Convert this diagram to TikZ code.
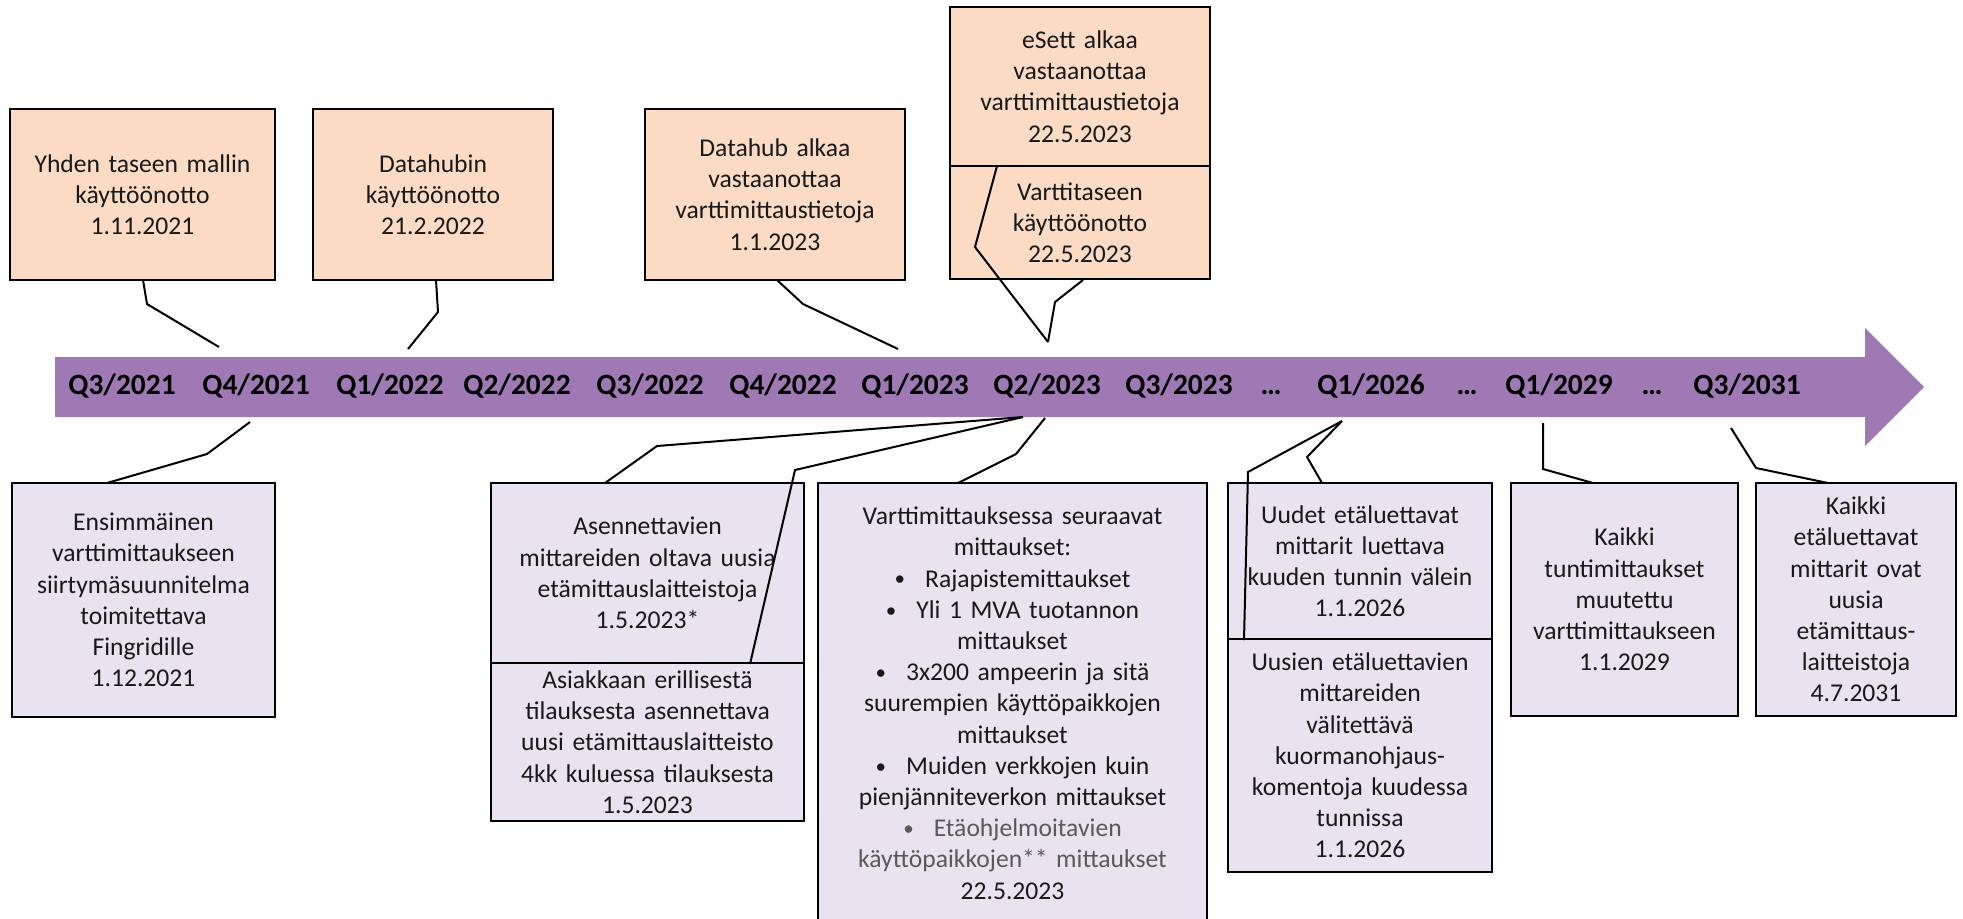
\documentclass[tikz,border=0pt]{standalone}
\usepackage{fontspec}
\setmainfont{Carlito}
\definecolor{peach}{RGB}{252,219,196}
\definecolor{lav}{RGB}{233,226,240}
\definecolor{arrowpurple}{RGB}{158,121,179}
\definecolor{txt}{RGB}{25,25,25}
\definecolor{graytxt}{RGB}{89,89,89}
\newcommand{\boxfont}{\fontsize{12.8}{15.6}\selectfont}
\newcommand{\labfont}{\fontsize{14.7}{17}\selectfont\bfseries}
\newcommand{\bul}{\raisebox{0.6pt}{\fontsize{10.5}{10.5}\selectfont\textbullet}\hspace{10pt}}
\tikzset{
  box/.style={draw=black, line width=1.3pt, inner sep=0pt, align=center, font=\boxfont, text=txt},
  obox/.style={box, fill=peach},
  lbox/.style={box, fill=lav},
  conn/.style={draw=black, line width=1pt, line join=miter},
  qlab/.style={font=\labfont, anchor=base, text=black, inner sep=0pt}
}
\begin{document}
\begin{tikzpicture}[x=0.5pt, y=-0.5pt]
\useasboundingbox (0,0) rectangle (1963,918);

% timeline arrow
\fill[arrowpurple] (55,357) -- (1865,357) -- (1865,328) -- (1924,387) -- (1865,446) -- (1865,417) -- (55,417) -- cycle;
\node[qlab] (q1) at (122,394) {Q3/2021};
\node[qlab] (q2) at (256,394) {Q4/2021};
\node[qlab] (q3) at (390,394) {Q1/2022};
\node[qlab] (q4) at (517,394) {Q2/2022};
\node[qlab] (q5) at (650,394) {Q3/2022};
\node[qlab] (q6) at (783,394) {Q4/2022};
\node[qlab] (q7) at (915,394) {Q1/2023};
\node[qlab] (q8) at (1047,394) {Q2/2023};
\node[qlab] (q9) at (1179,394) {Q3/2023};
\node[qlab] (e1) at (1271,394) {…};
\node[qlab] (q10) at (1371,394) {Q1/2026};
\node[qlab] (e2) at (1467,394) {…};
\node[qlab] (q11) at (1559,394) {Q1/2029};
\node[qlab] (e3) at (1652,394) {…};
\node[qlab] (q12) at (1747,394) {Q3/2031};

% top boxes
\node[obox, minimum width=132.5pt, minimum height=85.5pt, text width=128pt] (t1) at (142.5,194.5)
  {Yhden taseen mallin\\käyttöönotto\\1.11.2021};
\node[obox, minimum width=120pt, minimum height=85.5pt, text width=116pt] (t2) at (433,194.5)
  {Datahubin\\käyttöönotto\\21.2.2022};
\node[obox, minimum width=130pt, minimum height=85.5pt, text width=126pt] (t3) at (775,194.5)
  {Datahub alkaa\\vastaanottaa\\varttimittaustietoja\\1.1.2023};
\node[obox, minimum width=130pt, minimum height=79.5pt, text width=126pt] (t4) at (1080,86.5)
  {eSett alkaa\\vastaanottaa\\varttimittaustietoja\\22.5.2023};
\node[obox, minimum width=130pt, minimum height=56.5pt, text width=126pt] (t5) at (1080,222.5)
  {Varttitaseen\\käyttöönotto\\22.5.2023};

% bottom boxes
\node[lbox, minimum width=131.5pt, minimum height=117pt, text width=127pt] (b1) at (143.5,600)
  {Ensimmäinen\\varttimittaukseen\\siirtymäsuunnitelma\\toimitettava\\Fingridille\\1.12.2021};
\node[lbox, minimum width=156.5pt, minimum height=90pt, text width=152pt] (b2) at (647.5,573)
  {Asennettavien\\mittareiden oltava uusia\\etämittauslaitteistoja\\1.5.2023*};
\node[lbox, minimum width=156.5pt, minimum height=79pt, text width=152pt] (b3) at (647.5,742)
  {Asiakkaan erillisestä\\tilauksesta asennettava\\uusi etämittauslaitteisto\\4kk kuluessa tilauksesta\\1.5.2023};
\node[lbox, minimum width=194.5pt, minimum height=220pt, text width=190pt] (b4) at (1012.5,703)
  {Varttimittauksessa seuraavat\\mittaukset:\\\bul Rajapistemittaukset\\\bul Yli 1 MVA tuotannon\\mittaukset\\\bul 3x200 ampeerin ja sitä\\suurempien käyttöpaikkojen\\mittaukset\\\bul Muiden verkkojen kuin\\pienjänniteverkon mittaukset\\\textcolor{graytxt}{\bul Etäohjelmoitavien}\\\textcolor{graytxt}{käyttöpaikkojen** mittaukset}\\22.5.2023};
\node[lbox, minimum width=132pt, minimum height=78pt, text width=128pt] (b5) at (1360,561)
  {Uudet etäluettavat\\mittarit luettava\\kuuden tunnin välein\\1.1.2026};
\node[lbox, minimum width=132pt, minimum height=116.5pt, text width=128pt] (b6) at (1360,755.5)
  {Uusien etäluettavien\\mittareiden\\välitettävä\\kuormanohjaus-\\komentoja kuudessa\\tunnissa\\1.1.2026};
\node[lbox, minimum width=113.5pt, minimum height=116.5pt, text width=110pt] (b7) at (1624.5,599.5)
  {Kaikki\\tuntimittaukset\\muutettu\\varttimittaukseen\\1.1.2029};
\node[lbox, minimum width=100pt, minimum height=116.5pt, text width=97pt] (b8) at (1856,599.5)
  {Kaikki\\etäluettavat\\mittarit ovat\\uusia\\etämittaus-\\laitteistoja\\4.7.2031};

% connector points
\coordinate (c1a) at (143,280);  \coordinate (c1b) at (147,304);  \coordinate (c1c) at (219,347);
\coordinate (c2a) at (436,280);  \coordinate (c2b) at (438,312);  \coordinate (c2c) at (408,349);
\coordinate (c3a) at (777,280);  \coordinate (c3b) at (803,304);  \coordinate (c3c) at (898,349);
\coordinate (c4a) at (997,166);  \coordinate (c4b) at (975,247);  \coordinate (apexT) at (1048,342);
\coordinate (c5a) at (1083,280); \coordinate (c5b) at (1055,302);
\coordinate (c6a) at (250,422);  \coordinate (c6b) at (207,454);  \coordinate (c6c) at (107,483);
\coordinate (apexB) at (1023,417);
\coordinate (c7b) at (657,446);  \coordinate (c7c) at (605,483);
\coordinate (c8b) at (795,470);  \coordinate (c8c) at (750,664);
\coordinate (c9a) at (1045,418); \coordinate (c9b) at (1016,454); \coordinate (c9c) at (958,483);
\coordinate (apexU) at (1342,421);
\coordinate (c10b) at (1307,457); \coordinate (c10c) at (1322,483);
\coordinate (c11b) at (1248,472); \coordinate (c11c) at (1244,640);
\coordinate (c12a) at (1543,423); \coordinate (c12b) at (1543,469); \coordinate (c12c) at (1593,483);
\coordinate (c13a) at (1731,428); \coordinate (c13b) at (1756,468); \coordinate (c13c) at (1828,483);

% connectors
\draw[conn] (c1a) -- (c1b) -- (c1c);
\draw[conn] (c2a) -- (c2b) -- (c2c);
\draw[conn] (c3a) -- (c3b) -- (c3c);
\draw[conn] (c4a) -- (c4b) -- (apexT);
\draw[conn] (c5a) -- (c5b) -- (apexT);
\draw[conn] (c6a) -- (c6b) -- (c6c);
\draw[conn] (apexB) -- (c7b) -- (c7c);
\draw[conn] (apexB) -- (c8b) -- (c8c);
\draw[conn] (c9a) -- (c9b) -- (c9c);
\draw[conn] (apexU) -- (c10b) -- (c10c);
\draw[conn] (apexU) -- (c11b) -- (c11c);
\draw[conn] (c12a) -- (c12b) -- (c12c);
\draw[conn] (c13a) -- (c13b) -- (c13c);
\end{tikzpicture}
\end{document}
